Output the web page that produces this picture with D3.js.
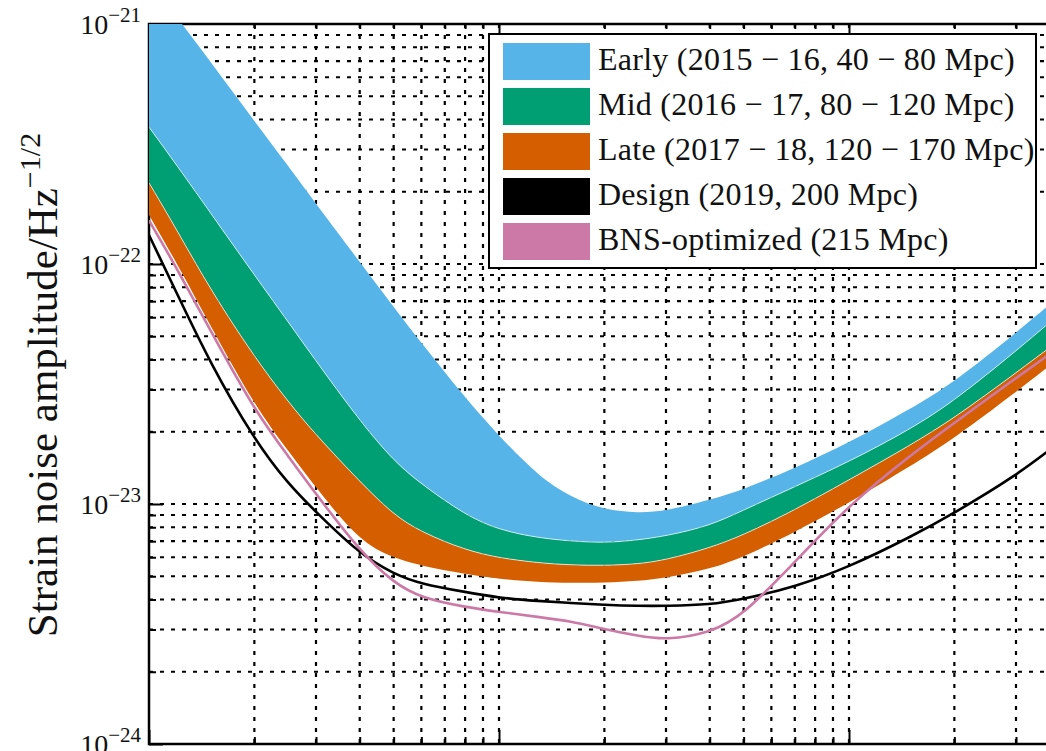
<!DOCTYPE html>
<html>
<head>
<meta charset="utf-8">
<script src="https://cdn.jsdelivr.net/npm/d3@7"></script>
<style>
  body { margin: 0; background: #fff; }
  svg { display: block; }
</style>
</head>
<body>
<script>
const freq = [10, 12, 15, 20, 25, 30, 40, 50, 60, 80, 100, 130, 160, 200, 250, 300, 400, 500, 700, 1000, 1500, 2000, 3000, 4000];

// strain noise amplitude, Hz^-1/2
const early40 = [1.52e-21, 1.07e-21, 6.95e-22, 3.94e-22, 2.56e-22, 1.78e-22, 1.02e-22, 6.62e-23, 4.69e-23, 2.77e-23, 1.92e-23, 1.30e-23, 1.07e-23, 9.44e-24, 9.17e-24, 9.35e-24, 1.04e-23, 1.15e-23, 1.41e-23, 1.80e-23, 2.49e-23, 3.22e-23, 5.16e-23, 7.36e-23];
const mid80 = [3.72e-22, 2.58e-22, 1.63e-22, 9.00e-23, 5.73e-23, 3.94e-23, 2.22e-23, 1.51e-23, 1.21e-23, 9.00e-24, 7.79e-24, 7.22e-24, 7.01e-24, 6.88e-24, 7.08e-24, 7.36e-24, 8.10e-24, 9.44e-24, 1.18e-23, 1.50e-23, 2.05e-23, 2.69e-23, 4.34e-23, 6.19e-23];
const late120 = [2.18e-22, 1.39e-22, 7.79e-23, 4.10e-23, 2.66e-23, 1.94e-23, 1.24e-23, 9.00e-24, 7.64e-24, 6.43e-24, 5.96e-24, 5.68e-24, 5.57e-24, 5.54e-24, 5.62e-24, 5.85e-24, 6.56e-24, 7.43e-24, 9.44e-24, 1.26e-23, 1.76e-23, 2.28e-23, 3.52e-23, 4.82e-23];
const late170 = [1.60e-22, 1.01e-22, 5.52e-23, 2.58e-23, 1.66e-23, 1.17e-23, 6.95e-24, 5.96e-24, 5.52e-24, 5.11e-24, 4.87e-24, 4.73e-24, 4.69e-24, 4.69e-24, 4.78e-24, 4.92e-24, 5.36e-24, 6.01e-24, 7.64e-24, 1.01e-23, 1.44e-23, 1.88e-23, 2.93e-23, 4.06e-23];
const design = [1.32e-22, 7.57e-23, 3.83e-23, 1.85e-23, 1.21e-23, 9.26e-24, 6.19e-24, 5.11e-24, 4.64e-24, 4.30e-24, 4.06e-24, 3.94e-24, 3.87e-24, 3.80e-24, 3.76e-24, 3.76e-24, 3.80e-24, 4.02e-24, 4.51e-24, 5.46e-24, 7.29e-24, 9.17e-24, 1.31e-23, 1.81e-23];
const bnsOpt = [1.52e-22, 9.62e-23, 5.26e-23, 2.46e-23, 1.58e-23, 1.10e-23, 6.37e-24, 4.69e-24, 4.06e-24, 3.72e-24, 3.55e-24, 3.38e-24, 3.25e-24, 3.01e-24, 2.82e-24, 2.71e-24, 2.90e-24, 3.45e-24, 5.73e-24, 9.91e-24, 1.60e-23, 2.18e-23, 3.35e-23, 4.51e-23];

const yMajor = [1e-24, 1e-23, 1e-22, 1e-21];
const yMajorLabels = ['\u221224', '\u221223', '\u221222', '\u221221'];

const legendLabels = [
  'Early (2015\u2005\u2212\u200516, 40\u2005\u2212\u200580 Mpc)',
  'Mid (2016\u2005\u2212\u200517, 80\u2005\u2212\u2005120 Mpc)',
  'Late (2017\u2005\u2212\u200518, 120\u2005\u2212\u2005170 Mpc)',
  'Design (2019, 200 Mpc)',
  'BNS-optimized (215 Mpc)'
];
const colors = ['#56B4E9', '#009E73', '#D55E00', '#000000', '#CC79A7'];

const width = 1046, height = 751;
const plotLeft = 149, plotTop = 24, plotBottom = 744;
const serif = '"Liberation Serif", "DejaVu Serif", serif';

const x = d3.scaleLog().domain([10, 4000]).range([plotLeft, plotLeft + 350 * Math.log10(400)]);
const y = d3.scaleLog().domain([1e-24, 1e-21]).range([plotBottom, plotTop]);
const plotRight = x(4000);

const isMajor = v => Math.abs(Math.log10(v) - Math.round(Math.log10(v))) < 1e-6;

let svg = d3.select('body').append('svg')
  .attr('width', width)
  .attr('height', height)
  .attr('xmlns', 'http://www.w3.org/2000/svg');

// dotted grid
const grid = svg.append('g')
  .attr('stroke', '#000')
  .attr('stroke-width', 2.2)
  .attr('stroke-dasharray', '4,7');

grid.selectAll('.gx')
  .data(x.ticks().filter(v => v > 10 && v < 4000))
  .join('line')
  .attr('x1', d => x(d)).attr('x2', d => x(d))
  .attr('y1', plotTop).attr('y2', plotBottom);

grid.selectAll('.gy')
  .data(y.ticks().filter(v => v > 1e-24 * 1.01 && v < 1e-21 * 0.99))
  .join('line')
  .attr('x1', plotLeft).attr('x2', plotRight)
  .attr('y1', d => y(d)).attr('y2', d => y(d));

// inward ticks
const minorX = x.ticks().filter(v => !isMajor(v));
const majorX = x.ticks().filter(isMajor);
const minorY = y.ticks().filter(v => !isMajor(v));

const tickAxis = (axis, tr) => {
  svg.append('g')
    .attr('transform', tr)
    .call(axis.tickFormat(''))
    .call(g => g.select('.domain').remove())
    .call(g => g.selectAll('line').attr('stroke', '#000').attr('stroke-width', 2));
};
tickAxis(d3.axisLeft(y).tickValues(minorY).tickSize(-7), `translate(${plotLeft},0)`);
tickAxis(d3.axisLeft(y).tickValues(yMajor).tickSize(-14), `translate(${plotLeft},0)`);
tickAxis(d3.axisBottom(x).tickValues(minorX).tickSize(-7), `translate(0,${plotBottom})`);
tickAxis(d3.axisBottom(x).tickValues(majorX).tickSize(-14), `translate(0,${plotBottom})`);
tickAxis(d3.axisTop(x).tickValues(minorX).tickSize(-5), `translate(0,${plotTop})`);
tickAxis(d3.axisTop(x).tickValues(majorX).tickSize(-10), `translate(0,${plotTop})`);

// frame
svg.append('rect')
  .attr('x', plotLeft).attr('y', plotTop)
  .attr('width', plotRight - plotLeft).attr('height', plotBottom - plotTop)
  .attr('fill', 'none')
  .attr('stroke', '#000')
  .attr('stroke-width', 2.5);

// curves
const rows = freq.map((f, i) => ({
  f, a: early40[i], b: mid80[i], c: late120[i], d: late170[i], k: design[i], p: bnsOpt[i]
}));

svg.append('clipPath').attr('id', 'plot')
  .append('rect')
  .attr('x', plotLeft).attr('y', plotTop)
  .attr('width', plotRight - plotLeft).attr('height', plotBottom - plotTop);

const plot = svg.append('g').attr('clip-path', 'url(#plot)');

const band = (hi, lo) => d3.area()
  .x(r => x(r.f))
  .y0(r => y(r[lo]))
  .y1(r => y(r[hi]))
  .curve(d3.curveBasis);
const line = key => d3.line()
  .x(r => x(r.f))
  .y(r => y(r[key]))
  .curve(d3.curveBasis);

plot.append('path').attr('d', band('a', 'b')(rows)).attr('fill', colors[0]);
plot.append('path').attr('d', band('b', 'c')(rows)).attr('fill', colors[1]);
plot.append('path').attr('d', band('c', 'd')(rows)).attr('fill', colors[2]);

// thin light seams between the bands
['b', 'c'].forEach(k => {
  plot.append('path').attr('d', line(k)(rows))
    .attr('fill', 'none')
    .attr('stroke', '#fff')
    .attr('stroke-opacity', 0.7)
    .attr('stroke-width', 1);
});

plot.append('path').attr('d', line('k')(rows))
  .attr('fill', 'none').attr('stroke', colors[3]).attr('stroke-width', 2.6);
plot.append('path').attr('d', line('p')(rows))
  .attr('fill', 'none').attr('stroke', colors[4]).attr('stroke-width', 2.6);

// y tick labels
const ylab = svg.append('g')
  .attr('font-family', serif)
  .attr('fill', '#111')
  .attr('text-anchor', 'end');
yMajor.forEach((v, i) => {
  let t = ylab.append('text')
    .attr('x', 141)
    .attr('y', y(v) + 10);
  t.append('tspan').attr('font-size', 28).text('10');
  t.append('tspan').attr('font-size', 21).attr('dy', -12).text(yMajorLabels[i]);
});

// y axis title
let title = svg.append('text')
  .attr('transform', 'translate(57,385) rotate(-90)')
  .attr('text-anchor', 'middle')
  .attr('font-family', serif)
  .attr('fill', '#111')
  .attr('font-size', 43);
title.append('tspan').text('Strain noise amplitude/Hz');
title.append('tspan').attr('font-size', 30).attr('dy', -17).text('\u22121/2');

// legend
const legend = svg.append('g');
legend.append('rect')
  .attr('x', 489).attr('y', 34)
  .attr('width', 547).attr('height', 234)
  .attr('fill', '#fff')
  .attr('stroke', '#000')
  .attr('stroke-width', 2);

legendLabels.forEach((label, i) => {
  const ry = 43 + i * 45;
  legend.append('rect')
    .attr('x', 503).attr('y', ry)
    .attr('width', 87).attr('height', 37)
    .attr('fill', colors[i]);
  legend.append('text')
    .attr('x', 598)
    .attr('y', ry + 27)
    .attr('font-family', serif)
    .attr('font-size', 32)
    .attr('letter-spacing', 0.25)
    .attr('fill', '#111')
    .text(label);
});
</script>
</body>
</html>
